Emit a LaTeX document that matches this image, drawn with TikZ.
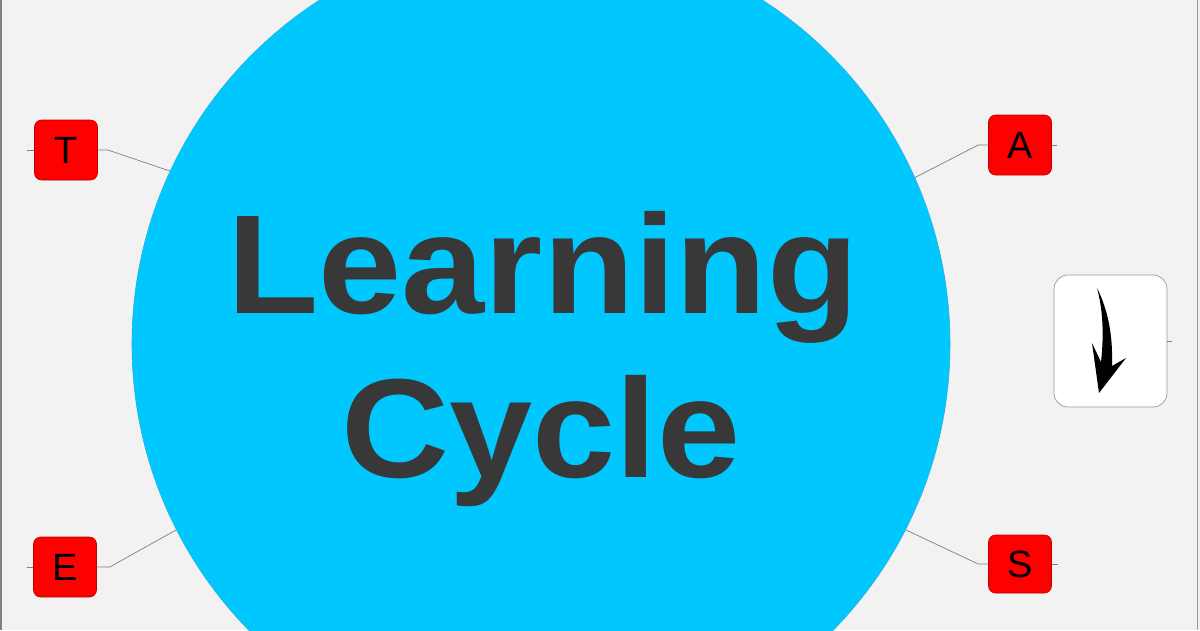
\documentclass[tikz,border=0pt]{standalone}
\usepackage{fontspec}
\setmainfont{Liberation Sans}
\newfontfamily\bigfont[FakeStretch=1.06]{Liberation Sans}
\definecolor{bgrey}{HTML}{F2F2F2}
\definecolor{cyanfill}{HTML}{00C8FF}
\definecolor{textgrey}{HTML}{383838}
\tikzset{
    letterbox/.style={fill=red, draw=red!75!black, line width=0.6pt, rounded corners=7pt,
        minimum width=63pt, minimum height=60pt, inner sep=0pt, font=\fontsize{38}{38}\selectfont},
    link/.style={draw=gray, line width=0.7pt}
}
\begin{document}
\begin{tikzpicture}[x=1pt, y=-1pt]
            % 背景和边框
            \useasboundingbox (0,0) rectangle (1200,630);
            \clip (0,0) rectangle (1200,630);
            \fill[bgrey] (0,0) rectangle (1200,630);
            \draw[gray, line width=2pt] (1,0) -- (1,630);
            \draw[gray!80, line width=1pt] (1197,0) -- (1197,630);

            % 大圆
            \node[circle, fill=cyanfill, draw=cyanfill!70!gray, line width=0.6pt,
                minimum size=818pt, inner sep=0pt] (cyc) at (541,344) {};

            % 标题文字
            \node[anchor=base, text=textgrey, inner sep=0pt] (learn) at (543,313)
                {\bigfont\bfseries\fontsize{141}{141}\selectfont Learning};
            \node[anchor=base, text=textgrey, inner sep=0pt] (cycle) at (541,477)
                {\bigfont\bfseries\fontsize{141}{141}\selectfont Cycle};

            % 四个红色方块
            \node[letterbox] (T) at (66,150) {T};
            \node[letterbox] (A) at (1020,145) {A};
            \node[letterbox] (E) at (65,567) {E};
            \node[letterbox, minimum height=58pt] (S) at (1020,564) {S};

            % 连线
            \draw[link] (T.west) -- ++(-7,0);
            \draw[link] (T.east) -- ++(10,0) -- (cyc.155.8);
            \draw[link] (A.east) -- ++(5,0);
            \draw[link] (A.west) -- ++(-10,0) -- (cyc.24.6);
            \draw[link] (E.west) -- ++(-6,0);
            \draw[link] (E.east) -- ++(13,0) -- (cyc.207.3);
            \draw[link] (S.east) -- ++(6,0);
            \draw[link] (S.west) -- ++(-10,0) -- (cyc.333);

            % 右边的箭头框
            \node[fill=white, draw=gray!80, line width=0.7pt, rounded corners=14pt,
                minimum width=113pt, minimum height=132pt] (arr) at (1110.5,341) {};
            \draw[link] (arr.east) -- ++(5,0);
            \fill[black] (1097,288) .. controls (1108,310) and (1113,335) .. (1112,366)
                -- (1126,358) -- (1099,393) -- (1092,343) -- (1101,362)
                .. controls (1104,335) and (1103,310) .. cycle;
        \end{tikzpicture}
\end{document}
